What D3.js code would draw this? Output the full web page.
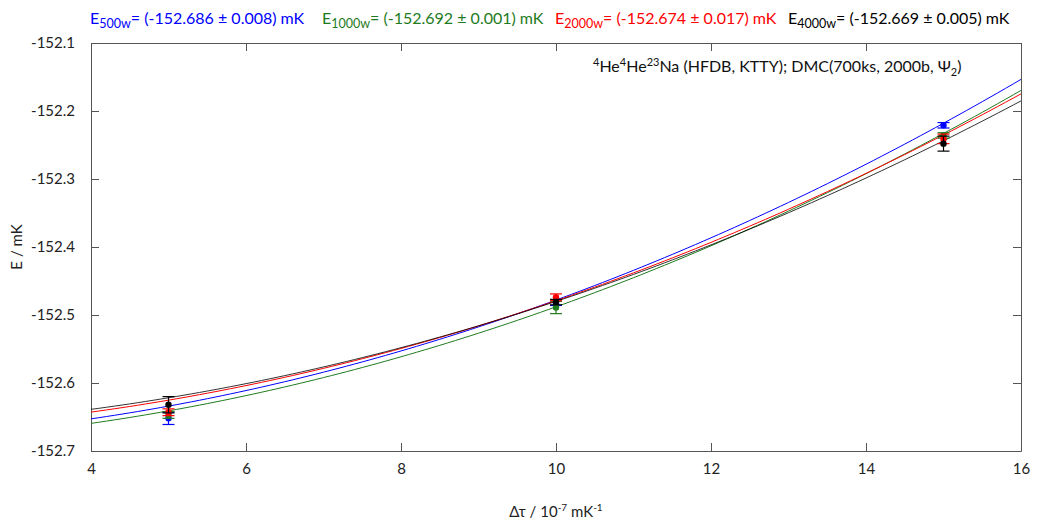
<!DOCTYPE html>
<html><head><meta charset="utf-8">
<script src="https://cdn.jsdelivr.net/npm/d3@7"></script>
<style>body{margin:0;background:#fff}svg text{font-family:Lato,"Open Sans",sans-serif}</style>
</head><body><svg id="c" width="1037" height="522"></svg>
<script>
// ---- data ----
const tauValues = [5, 10, 15];
const seriesNames = ["500w", "1000w", "2000w", "4000w"];
const seriesColors = ["#0000ff", "#1e7b1e", "#ff0000", "#000000"];
const energy500 = [-152.652, -152.483, -152.221];
const err500 = [0.009, 0.003, 0.004];
const energy1000 = [-152.647, -152.489, -152.236];
const err1000 = [0.005, 0.009, 0.004];
const energy2000 = [-152.643, -152.474, -152.241];
const err2000 = [0.005, 0.005, 0.007];
const energy4000 = [-152.632, -152.481, -152.248];
const err4000 = [0.012, 0.004, 0.011];
// fit E(tau) = E0 + q * tau^2
const fitE0 = [-152.686, -152.692, -152.674, -152.669];
const fitE0Err = [0.008, 0.001, 0.017, 0.005];
const fitQuad = [0.00208, 0.00204, 0.00195, 0.00189];
const xTicks = [4, 6, 8, 10, 12, 14, 16];
const yTicks = [-152.7, -152.6, -152.5, -152.4, -152.3, -152.2, -152.1];

const energies = [energy500, energy1000, energy2000, energy4000];
const errors = [err500, err1000, err2000, err4000];

const svg = d3.select("#c");
const L = 91, R = 1021, T = 43, B = 451;
const x = d3.scaleLinear().domain([4, 16]).range([L, R]);
const y = d3.scaleLinear().domain([-152.7, -152.1]).range([B, T]);
const axisCol = "#555";

// axes with inward ticks
const gx = svg.append("g").attr("transform", `translate(0,${B})`)
  .call(d3.axisBottom(x).tickValues(xTicks).tickSizeInner(-8).tickSizeOuter(0).tickPadding(12).tickFormat(d => String(d)));
const gxt = svg.append("g").attr("transform", `translate(0,${T})`)
  .call(d3.axisTop(x).tickValues(xTicks).tickSizeInner(-8).tickSizeOuter(0).tickFormat(""));
const gy = svg.append("g").attr("transform", `translate(${L},0)`)
  .call(d3.axisLeft(y).tickValues(yTicks).tickSizeInner(-8).tickSizeOuter(0).tickPadding(16).tickFormat(d => d.toFixed(1)));
const gyr = svg.append("g").attr("transform", `translate(${R},0)`)
  .call(d3.axisRight(y).tickValues(yTicks).tickSizeInner(-8).tickSizeOuter(0).tickFormat(""));
[gx, gxt, gy, gyr].forEach(g => {
  g.select(".domain").attr("stroke", axisCol);
  g.selectAll(".tick line").attr("stroke", axisCol);
  g.selectAll("text").attr("font-size", 15).attr("fill", "#222").attr("font-family", "Lato, 'Open Sans', sans-serif");
});

// fit curves
svg.append("clipPath").attr("id", "pc").append("rect")
  .attr("x", L).attr("y", T).attr("width", R - L).attr("height", B - T);
const tauGrid = d3.range(4, 16.0001, 0.1);
const line = d3.line().x(d => x(d[0])).y(d => y(d[1]));
seriesNames.forEach((n, i) => {
  svg.append("path")
    .attr("clip-path", "url(#pc)")
    .attr("d", line(tauGrid.map(t => [t, fitE0[i] + fitQuad[i] * t * t])))
    .attr("fill", "none").attr("stroke", seriesColors[i]).attr("stroke-width", 1)
    .attr("stroke-opacity", i === 3 ? 0.8 : 1);
});

// points with error bars
seriesNames.forEach((n, i) => {
  const g = svg.append("g").attr("stroke", seriesColors[i]).attr("fill", seriesColors[i]);
  tauValues.forEach((t, j) => {
    const cx = x(t), e = energies[i][j], er = errors[i][j];
    const y1 = y(e - er), y2 = y(e + er);
    g.append("line").attr("x1", cx).attr("x2", cx).attr("y1", y1).attr("y2", y2).attr("stroke-width", 1.2);
    g.append("line").attr("x1", cx - 6).attr("x2", cx + 6).attr("y1", y1).attr("y2", y1).attr("stroke-width", 1.2);
    g.append("line").attr("x1", cx - 6).attr("x2", cx + 6).attr("y1", y2).attr("y2", y2).attr("stroke-width", 1.2);
    g.append("circle").attr("cx", cx).attr("cy", y(e)).attr("r", 3.2).attr("stroke", "none");
  });
});

// title labels
const titleX = [90, 322, 555, 788];
seriesNames.forEach((n, i) => {
  const t = svg.append("text").attr("x", titleX[i]).attr("y", 24).attr("font-size", 16).attr("fill", seriesColors[i]);
  t.append("tspan").text("E");
  t.append("tspan").attr("dy", 4).attr("font-size", 12.5).text(n);
  t.append("tspan").attr("dy", -4).text(`= (${fitE0[i].toFixed(3)} \u00b1 ${fitE0Err[i].toFixed(3)}) mK`);
});

// annotation
const an = svg.append("text").attr("x", 593).attr("y", 72).attr("font-size", 16).attr("fill", "#111");
an.append("tspan").attr("dy", -6).attr("font-size", 11).text("4");
an.append("tspan").attr("dy", 6).text("He");
an.append("tspan").attr("dy", -6).attr("font-size", 11).text("4");
an.append("tspan").attr("dy", 6).text("He");
an.append("tspan").attr("dy", -6).attr("font-size", 11).text("23");
an.append("tspan").attr("dy", 6).text("Na (HFDB, KTTY); DMC(700ks, 2000b, \u03a8");
an.append("tspan").attr("dy", 4).attr("font-size", 11).text("2");
an.append("tspan").attr("dy", -4).text(")");

// axis titles
svg.append("text").attr("transform", `translate(22,${(T + B) / 2}) rotate(-90)`)
  .attr("text-anchor", "middle").attr("font-size", 15).attr("fill", "#222").text("E / mK");
const xl = svg.append("text").attr("x", 556).attr("y", 517).attr("text-anchor", "middle").attr("font-size", 15).attr("fill", "#222");
xl.append("tspan").text("\u0394\u03c4 / 10");
xl.append("tspan").attr("dy", -6).attr("font-size", 10).text("-7");
xl.append("tspan").attr("dy", 6).text(" mK");
xl.append("tspan").attr("dy", -6).attr("font-size", 10).text("-1");
</script></body></html>
